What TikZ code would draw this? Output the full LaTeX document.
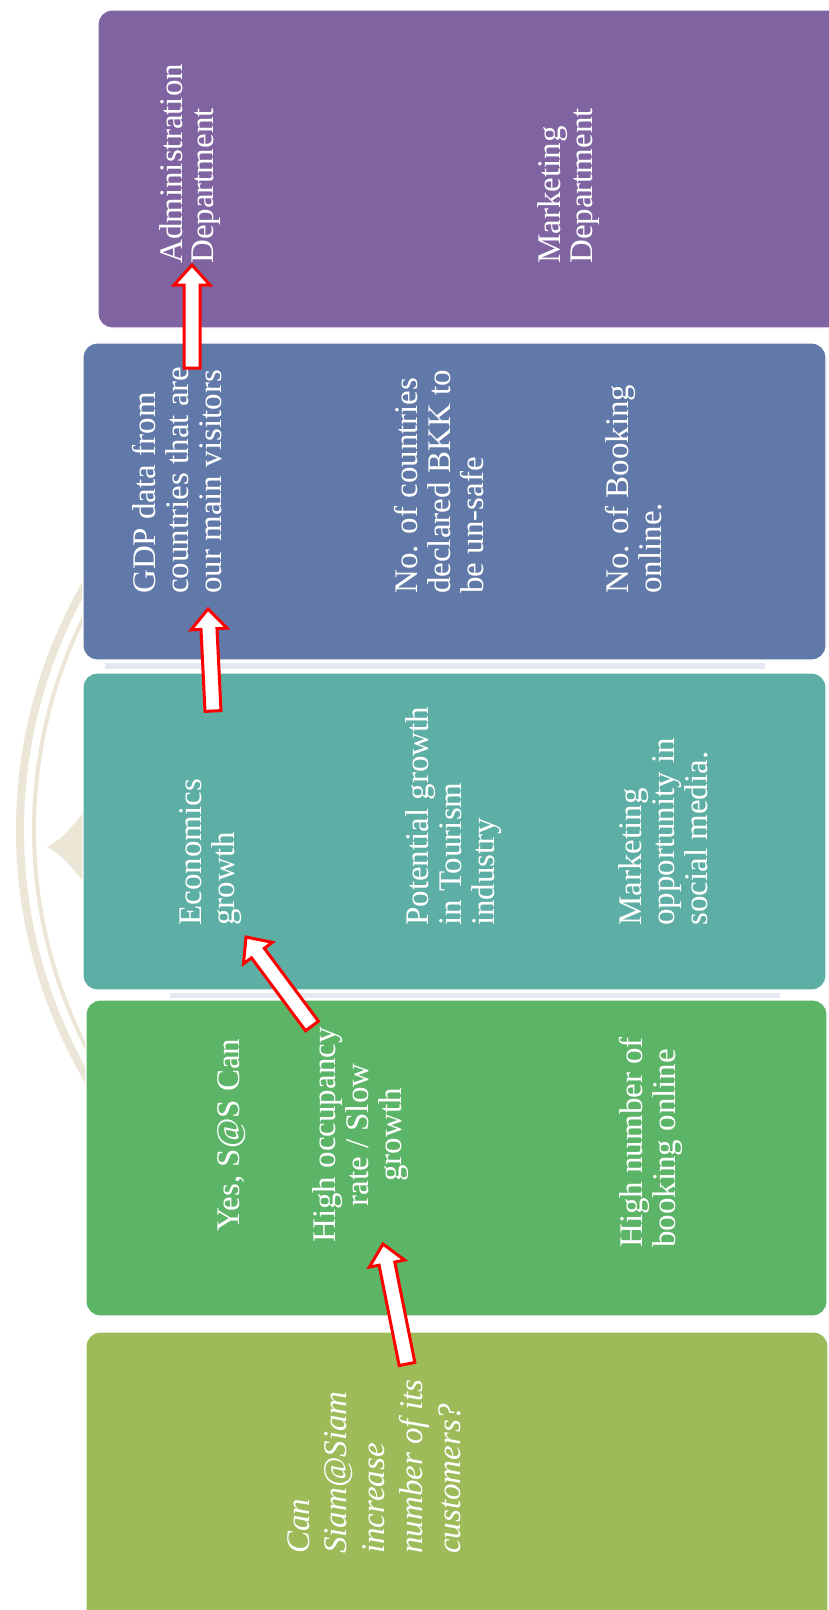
\documentclass[tikz,border=0pt]{standalone}
\usepackage{fontspec}
\setmainfont{Liberation Serif}
\usetikzlibrary{calc}
\definecolor{cpurple}{HTML}{8064A2}
\definecolor{cblue}{HTML}{6079A8}
\definecolor{cteal}{HTML}{5DAFA5}
\definecolor{cgreen}{HTML}{5CB467}
\definecolor{colive}{HTML}{9DBB59}
\definecolor{wmark}{HTML}{DDD2B5}
\definecolor{wblue}{HTML}{B3C0D8}
\tikzset{
  band/.style={draw=white, line width=1.2pt, rounded corners=14pt},
  lbl/.style={text=white, rotate=90, inner sep=0pt, font=\fontsize{33}{33}\selectfont},
  lblL/.style={lbl, align=left, anchor=north west},
  lblC/.style={lbl, align=center, anchor=north},
  barrow/.style={draw=red, fill=white, line width=3pt, line join=miter},
  wm/.style={wmark, opacity=0.55},
}
\newcommand\blockarrow[2]{%
  \path ($(#2)!20pt!(#1)$) coordinate (neck);
  \draw[barrow] ($(#1)!8pt!90:(#2)$) -- ($(neck)!8pt!90:(#2)$) -- ($(neck)!18pt!90:(#2)$) -- (#2) -- ($(neck)!18pt!-90:(#2)$) -- ($(neck)!8pt!-90:(#2)$) -- ($(#1)!8pt!-90:(#2)$) -- cycle;}
\begin{document}
\begin{tikzpicture}[x=1pt,y=-1pt]
\useasboundingbox (0,0) rectangle (829,1610);
% faint watermark behind the bands
\draw[wm, line width=8pt] (512,830) ++(145:492) arc[start angle=145, end angle=215, radius=492];
\draw[wm, line width=4pt] (512,830) ++(145:478) arc[start angle=145, end angle=215, radius=478];
\fill[wm] (47,847) .. controls (62,838) .. (84,812) -- (84,882) .. controls (62,856) .. (47,847) -- cycle;
\fill[wblue, opacity=0.35] (105,663) rectangle (765,669);
\fill[wblue, opacity=0.35] (170,993) rectangle (780,998);
% bands
\path[band, fill=cpurple] (98,10) rectangle (860,328);
\path[band, fill=cblue] (83,343) rectangle (826,660);
\path[band, fill=cteal] (83,673) rectangle (826,990);
\path[band, fill=cgreen] (86,1000) rectangle (827,1316);
\path[band, fill=colive] (86,1332) rectangle (828,1640);
% texts
\node[lblL, font=\fontsize{33}{31}\selectfont] (adm) at (159,264) {Administration\\Department};
\node[lblL, font=\fontsize{33}{32}\selectfont] (mkd) at (537,264) {Marketing\\Department};
\node[lblL] (gdp) at (132.5,594) {GDP data from\\countries that are\\our main visitors};
\node[lblL] (nocs) at (394.5,594) {No. of countries\\declared BKK to\\be un-safe};
\node[lblL] (nbo) at (605.5,594) {No. of Booking\\online.};
\node[lblL] (eco) at (179.5,926) {Economics\\growth};
\node[lblL] (pot) at (405.5,926) {Potential growth\\in Tourism\\industry};
\node[lblL] (mop) at (618.5,926) {Marketing\\opportunity in\\social media.};
\node[lblC] (yes) at (217.7,1135) {Yes, S@S Can};
\node[lblC] (occ) at (312.5,1135) {High occupancy\\rate / Slow\\growth};
\node[lblL] (hnb) at (619.5,1248) {High number of\\booking online};
\node[lblL, font=\fontsize{33}{37.8}\selectfont\itshape] (q) at (287,1554) {Can\\Siam@Siam\\increase\\number of its\\customers?};
% arrows
\coordinate (a1t) at (192,368); \coordinate (a1h) at (192,265);
\coordinate (a2t) at (213,711); \coordinate (a2h) at (208,609);
\coordinate (a3t) at (312,1026); \coordinate (a3h) at (246,937);
\coordinate (a4t) at (407,1364); \coordinate (a4h) at (383,1244);
\blockarrow{a4t}{a4h}
\blockarrow{a3t}{a3h}
\blockarrow{a2t}{a2h}
\blockarrow{a1t}{a1h}
\end{tikzpicture}
\end{document}
